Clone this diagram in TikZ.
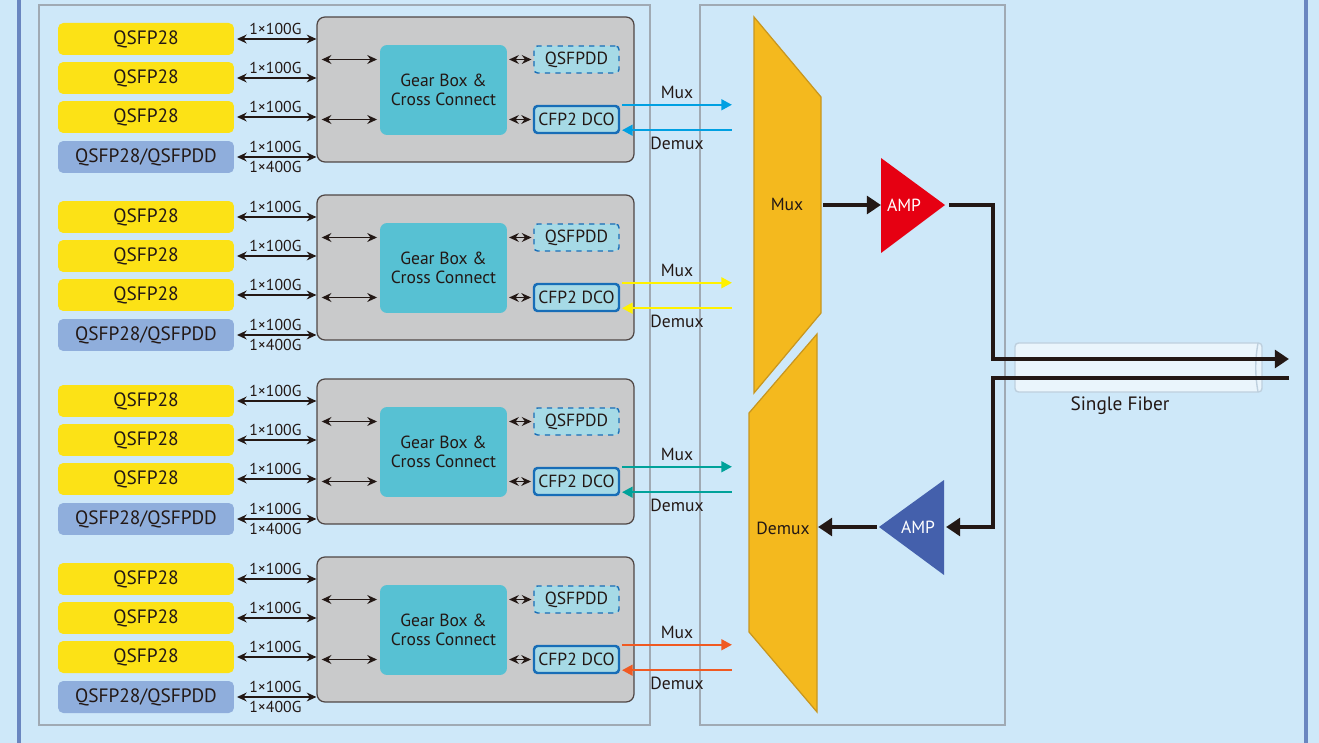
\documentclass[tikz,border=0pt]{standalone}
\usepackage{fontspec}
\setmainfont{PT Sans}
\usetikzlibrary{positioning}
\usetikzlibrary{calc}
\usetikzlibrary{arrows.meta}
\definecolor{bgblue}{RGB}{206,232,249}
\definecolor{barblue}{RGB}{106,134,192}
\definecolor{panelgray}{RGB}{160,170,180}
\definecolor{portyellow}{RGB}{252,226,22}
\definecolor{portblue}{RGB}{143,174,220}
\definecolor{boxgray}{RGB}{201,202,203}
\definecolor{gearteal}{RGB}{87,193,211}
\definecolor{modlight}{RGB}{166,218,230}
\definecolor{modblue}{RGB}{23,109,183}
\definecolor{ink}{RGB}{35,24,21}
\definecolor{muxcyan}{RGB}{0,160,226}
\definecolor{muxyellow}{RGB}{255,241,0}
\definecolor{muxteal}{RGB}{0,162,154}
\definecolor{muxorange}{RGB}{240,90,34}
\definecolor{muxfill}{RGB}{244,185,30}
\definecolor{muxline}{RGB}{200,150,30}
\definecolor{ampred}{RGB}{230,0,18}
\definecolor{ampblue}{RGB}{68,96,172}
\definecolor{tubefill}{RGB}{234,245,252}
\definecolor{tubeline}{RGB}{190,208,222}

\begin{document}
\begin{tikzpicture}[x=0.02cm, y=-0.02cm,
  port/.style={rounded corners=3pt, minimum width=3.52cm, minimum height=0.64cm,
               inner sep=0pt, text=ink, font=\fontsize{11}{13}\selectfont},
  graybox/.style={draw=ink!80, line width=0.7pt, fill=boxgray, rounded corners=4.5pt,
                  minimum width=6.34cm, minimum height=2.9cm, inner sep=0pt},
  gear/.style={fill=gearteal, rounded corners=4pt, minimum width=2.54cm, minimum height=1.8cm,
               inner sep=0pt, align=center, text=ink, font=\fontsize{10}{10.8}\selectfont},
  module/.style={fill=modlight, rounded corners=2pt, minimum width=1.7cm, minimum height=0.54cm,
                 inner sep=0pt, text=ink, font=\fontsize{10}{12}\selectfont},
  biarrow/.style={draw=ink, line width=1pt, {Stealth[length=5.5pt,width=5pt]}-{Stealth[length=5.5pt,width=5pt]}},
  rate/.style={text=ink, inner sep=2pt, font=\fontsize{9}{10}\selectfont},
  wave/.style={line width=1.4pt},
  lbl/.style={text=ink, inner sep=3pt, font=\fontsize{10}{12}\selectfont},
  trap/.style={fill=muxfill, draw=muxline, line width=0.7pt},
  fiber/.style={draw=ink, line width=2.8pt},
  bigtip/.style={-{Triangle[length=8pt,width=10pt]}}]

\useasboundingbox (0,0) rectangle (1319,743);
\fill[bgblue] (0,0) rectangle (1319,743);
\fill[barblue] (17,0) rectangle (21,743);
\fill[barblue] (1304,0) rectangle (1308,743);

% panels
\draw[panelgray, line width=0.9pt] (39,5) rectangle (650,725);
\draw[panelgray, line width=0.9pt] (700,5) rectangle (1005,725);

\coordinate (mdx) at (732,0);

% line cards
\foreach \g/\dy/\col in {1/0/muxcyan,2/178/muxyellow,3/362/muxteal,4/540/muxorange}{
  \node[port, fill=portyellow] (p\g-1) at (146,39+\dy) {QSFP28};
  \node[port, fill=portyellow] (p\g-2) at (146,78+\dy) {QSFP28};
  \node[port, fill=portyellow] (p\g-3) at (146,117+\dy) {QSFP28};
  \node[port, fill=portblue]   (p\g-4) at (146,157+\dy) {QSFP28/QSFPDD};

  \node[graybox] (box\g) at (475.5,89.5+\dy) {};
  \node[gear] (gear\g) at (443.5,90+\dy) {Gear Box \&\\Cross Connect};
  \node[module, draw=modblue, dashed, line width=0.8pt] (dd\g) at (576.5,59.5+\dy) {QSFPDD};
  \node[module, draw=modblue, line width=1.4pt] (cfp\g) at (576.5,119.5+\dy) {CFP2 DCO};

  \foreach \k in {1,2,3}
    \draw[biarrow, shorten <=1.5pt] (p\g-\k.east) -- (p\g-\k.east -| box\g.west)
      node[midway, rate, above] {1×100G};
  \draw[biarrow, shorten <=1.5pt] (p\g-4.east) -- (p\g-4.east -| box\g.west)
    node[midway, rate, above] {1×100G}
    node[midway, rate, below] {1×400G};

  \draw[biarrow] ([xshift=3pt]box\g.west |- dd\g) -- ([xshift=-1.5pt]gear\g.west |- dd\g);
  \draw[biarrow] ([xshift=3pt]box\g.west |- cfp\g) -- ([xshift=-1.5pt]gear\g.west |- cfp\g);
  \draw[biarrow] ([xshift=1pt]gear\g.east |- dd\g) -- ([xshift=-1pt]dd\g.west);
  \draw[biarrow] ([xshift=1pt]gear\g.east |- cfp\g) -- ([xshift=-1pt]cfp\g.west);

  \draw[wave, draw=\col, -{Triangle[length=6pt,width=6pt]}]
    ([xshift=1pt]cfp\g.north east) -- (cfp\g.north east -| mdx)
    node[midway, lbl, above] {Mux};
  \draw[wave, draw=\col, {Triangle[length=6pt,width=6pt]}-]
    ([xshift=1pt,yshift=2.3pt]cfp\g.south east) -- ([yshift=2.3pt]cfp\g.south east -| mdx)
    node[midway, lbl, below] {Demux};
}

% mux / demux
\draw[trap] (754,17) -- (821,97) -- (821,313) -- (754,393) -- cycle;
\draw[trap] (749,413) -- (817,334) -- (817,712) -- (749,632) -- cycle;
\node[lbl] (mux) at (787,204) {Mux};
\node[lbl] (demux) at (783,528) {Demux};

% amplifiers
\fill[ampred] (881,158) -- (945,205) -- (881,253) -- cycle;
\node[lbl, text=white] (amptx) at (904,205) {AMP};
\fill[ampblue] (944,480) -- (879,527) -- (944,575) -- cycle;
\node[lbl, text=white] (amprx) at (918,527) {AMP};

% fiber tube
\draw[tubeline, fill=tubefill, rounded corners=2pt, line width=0.8pt] (1015,343) rectangle (1262,392);
\draw[tubeline, line width=0.8pt] (1258,343) .. controls (1255,360) and (1255,375) .. (1258,392);
\node[lbl, font=\fontsize{11}{13}\selectfont] (fiberlbl) at (1120,406) {Single Fiber};

% transmit path
\coordinate (muxR) at (823,205);
\coordinate (txIn) at (881,205);
\coordinate (txOut) at (949,205);
\coordinate (txBend) at (993,359);
\coordinate (txEnd) at (1289,359);
\draw[fiber, bigtip] (muxR) -- (txIn);
\draw[fiber, bigtip, line join=miter] (txOut) -| (txBend) -- (txEnd);

% receive path
\coordinate (rxStart) at (1289,378);
\coordinate (rxBend) at (993,378);
\coordinate (rxIn) at (946,527);
\coordinate (rxOut) at (877,527);
\coordinate (demuxR) at (818,527);
\draw[fiber, bigtip, line join=miter] (rxStart) -- (rxBend) |- (rxIn);
\draw[fiber, bigtip] (rxOut) -- (demuxR);

\end{tikzpicture}
\end{document}
